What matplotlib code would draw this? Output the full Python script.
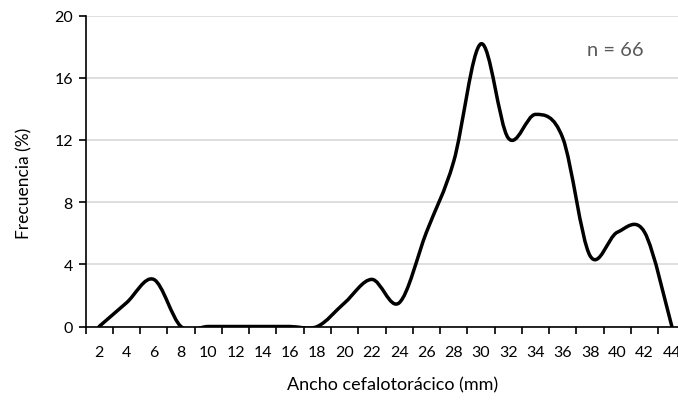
import matplotlib
matplotlib.use("Agg")
import matplotlib.pyplot as plt
import numpy as np
from matplotlib.path import Path
from matplotlib.patches import PathPatch

# ancho cefalotoracico (mm) vs frecuencia (%)
categorias = ["2", "4", "6", "8", "10", "12", "14", "16", "18", "20", "22",
              "24", "26", "28", "30", "32", "34", "36", "38", "40", "42", "44"]
frecuencia = [0, 1.52, 3.03, 0, 0, 0, 0, 0, 0, 1.52, 3.03,
              1.52, 6.06, 10.61, 18.18, 12.12, 13.64, 12.12, 4.55, 6.06, 6.06, 0]
y_ticks = [0, 4, 8, 12, 16, 20]

plt.rcParams['font.family'] = ['Lato', 'DejaVu Sans']

fig = plt.figure(figsize=(6.78, 4.06), dpi=100)
# plot area runs a bit past the right edge, like the original
ax = fig.add_axes([85.5 / 678, 1 - 327.5 / 406, 600 / 678, 311 / 406])

x = np.arange(len(categorias))
y = np.array(frecuencia, dtype=float)

# smoothed line (Excel-style bezier through the points)
pts = np.column_stack([x, y])
ext = np.vstack([pts[0], pts, pts[-1]])
verts = [tuple(pts[0])]
codes = [Path.MOVETO]
for i in range(len(pts) - 1):
    p0, p1, p2, p3 = ext[i], ext[i + 1], ext[i + 2], ext[i + 3]
    c1 = p1 + (p2 - p0) / 6
    c2 = p2 - (p3 - p1) / 6
    verts += [tuple(c1), tuple(c2), tuple(p2)]
    codes += [Path.CURVE4] * 3
ax.add_patch(PathPatch(Path(verts, codes), facecolor='none', edgecolor='black',
                       lw=2.5, capstyle='round', joinstyle='round', zorder=3))

ax.set_xlim(-0.5, len(categorias) - 0.5)
ax.set_ylim(0, 20)
ax.set_yticks(y_ticks)
ax.set_yticklabels([str(t) for t in y_ticks])
ax.set_xticks(x)
ax.set_xticklabels(categorias)
ax.set_xticks(np.arange(-0.5, len(categorias), 1), minor=True)

ax.grid(axis='y', color='#d9d9d9', lw=1.2)
ax.set_axisbelow(True)
for s in ['top', 'right']:
    ax.spines[s].set_visible(False)
ax.spines['left'].set_linewidth(1.2)
ax.spines['bottom'].set_linewidth(1.2)

ax.tick_params(axis='x', which='major', length=0, labelsize=11.5, pad=13)
ax.tick_params(axis='x', which='minor', length=5, width=1.2, direction='out')
ax.tick_params(axis='y', length=5, width=1.2, labelsize=11.5, pad=4)

fig.text(24 / 678, 1 - 183 / 406, 'Frecuencia (%)', rotation=90,
         ha='center', va='center', fontsize=12.5)
fig.text(393 / 678, 1 - 385 / 406, 'Ancho cefalotorácico (mm)',
         ha='center', va='center', fontsize=13)
fig.text(615 / 678, 1 - 50 / 406, 'n = 66', ha='center', va='center',
         fontsize=14.5, color='#595959')

fig.savefig("out.png", dpi=100)
